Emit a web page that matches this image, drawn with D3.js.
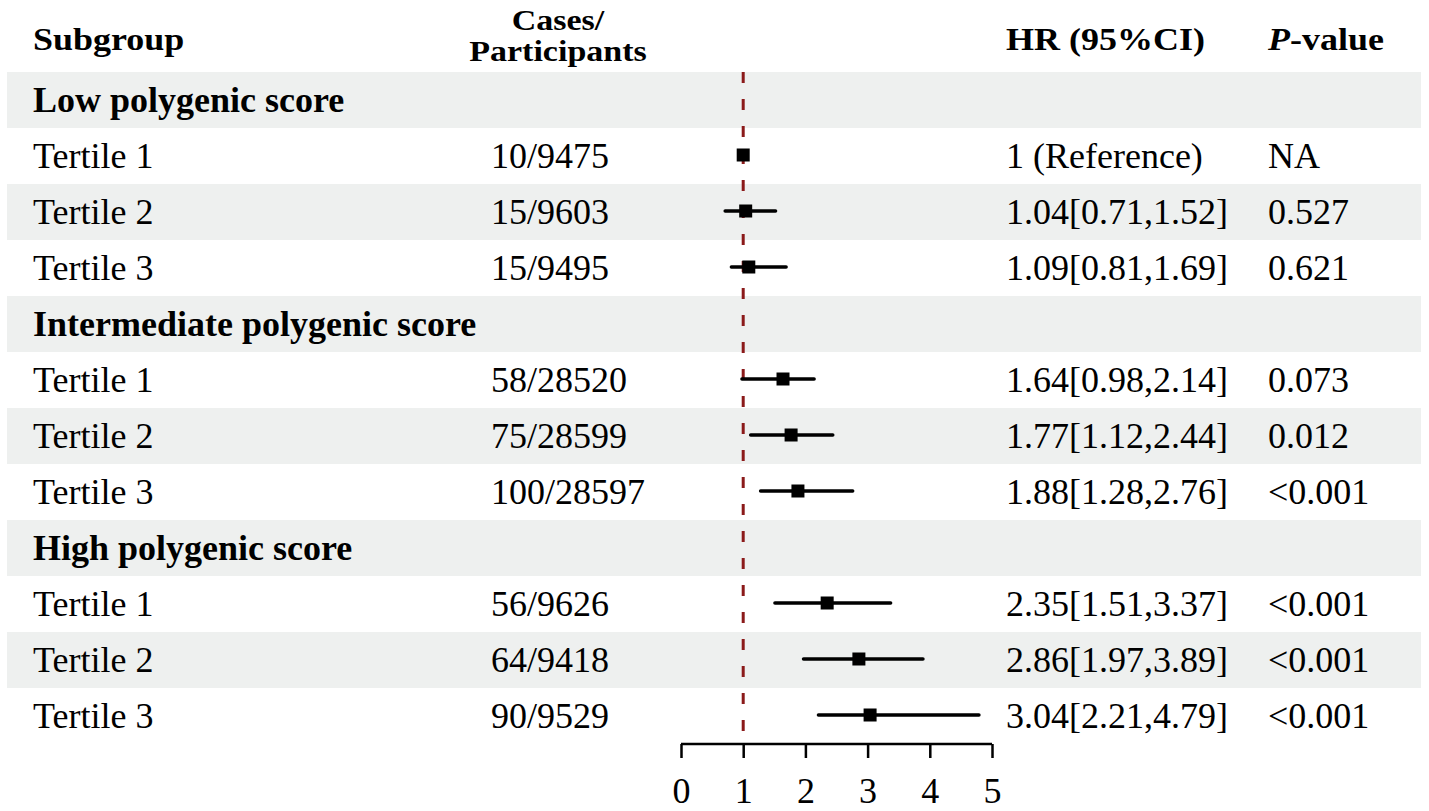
<!DOCTYPE html>
<html>
<head>
<meta charset="utf-8">
<script src="https://cdn.jsdelivr.net/npm/d3@7"></script>
<style>
  html, body { margin: 0; padding: 0; background: #fff; }
  svg { display: block; }
  text { font-family: "Liberation Serif", "Times New Roman", serif; fill: #000; }
</style>
</head>
<body>
<svg id="chart" width="1429" height="811"></svg>
<script>
// ---- data ----
const rowLabels = ["Low polygenic score", "Tertile 1", "Tertile 2", "Tertile 3",
  "Intermediate polygenic score", "Tertile 1", "Tertile 2", "Tertile 3",
  "High polygenic score", "Tertile 1", "Tertile 2", "Tertile 3"];
const isGroupHeader = [true, false, false, false, true, false, false, false, true, false, false, false];
const casesParticipants = ["", "10/9475", "15/9603", "15/9495", "", "58/28520", "75/28599", "100/28597",
  "", "56/9626", "64/9418", "90/9529"];
const hr = [null, 1, 1.04, 1.09, null, 1.64, 1.77, 1.88, null, 2.35, 2.86, 3.04];
const ciLow = [null, null, 0.71, 0.81, null, 0.98, 1.12, 1.28, null, 1.51, 1.97, 2.21];
const ciHigh = [null, null, 1.52, 1.69, null, 2.14, 2.44, 2.76, null, 3.37, 3.89, 4.79];
const hrText = ["", "1 (Reference)", "1.04[0.71,1.52]", "1.09[0.81,1.69]", "", "1.64[0.98,2.14]",
  "1.77[1.12,2.44]", "1.88[1.28,2.76]", "", "2.35[1.51,3.37]", "2.86[1.97,3.89]", "3.04[2.21,4.79]"];
const pText = ["", "NA", "0.527", "0.621", "", "0.073", "0.012", "<0.001", "", "<0.001", "<0.001", "<0.001"];
const xTicks = [0, 1, 2, 3, 4, 5];
const refValue = 1;

// ---- layout ----
const svg = d3.select("#chart");
const rowTop = 72, rowH = 56;
const x = d3.scaleLinear().domain([0, 5]).range([681, 992]);
const y = d3.scaleBand().domain(d3.range(rowLabels.length))
  .range([rowTop, rowTop + rowH * rowLabels.length]).padding(0);
const yc = i => y(i) + y.bandwidth() / 2;
const colSub = 33, colCases = 491, colHR = 1006, colP = 1268;
const fs = 36;

// bands
svg.append("g").selectAll("rect")
  .data(d3.range(rowLabels.length).filter(i => i % 2 === 0))
  .join("rect")
  .attr("x", 7).attr("width", 1414)
  .attr("y", i => y(i)).attr("height", y.bandwidth())
  .attr("fill", "#eef0ef");

// headers
const hdr = svg.append("g").attr("font-weight", "bold");
function hText(tx, ty, str, anchor, size) {
  return hdr.append("text")
    .attr("transform", `translate(${tx},${ty}) scale(1,0.88)`)
    .attr("text-anchor", anchor || "start")
    .attr("font-size", size || 36)
    .text(str);
}
hText(colSub, 50, "Subgroup");
hText(558, 30, "Cases/", "middle", 34);
hText(558, 61, "Participants", "middle", 34);
hText(colHR, 50, "HR (95%CI)");
const pv = hText(colP, 50, "");
pv.append("tspan").attr("font-style", "italic").text("P");
pv.append("tspan").text("-value");

// row text
const rows = svg.append("g").attr("font-size", fs);
rows.selectAll("text.lab").data(rowLabels).join("text")
  .attr("class", "lab")
  .attr("x", colSub).attr("y", (d, i) => yc(i) + 12)
  .attr("font-weight", (d, i) => isGroupHeader[i] ? "bold" : "normal")
  .text(d => d);
rows.selectAll("text.cases").data(casesParticipants).join("text")
  .attr("class", "cases")
  .attr("x", colCases).attr("y", (d, i) => yc(i) + 12)
  .text(d => d);
rows.selectAll("text.hr").data(hrText).join("text")
  .attr("class", "hr")
  .attr("x", colHR).attr("y", (d, i) => yc(i) + 12)
  .text(d => d);
rows.selectAll("text.p").data(pText).join("text")
  .attr("class", "p")
  .attr("x", colP).attr("y", (d, i) => yc(i) + 12)
  .text(d => d);

// reference dashed line
const axisY = 744;
svg.append("line")
  .attr("x1", x(refValue)).attr("x2", x(refValue))
  .attr("y1", rowTop).attr("y2", axisY - 3)
  .attr("stroke", "#8b1a1a").attr("stroke-width", 3)
  .attr("stroke-dasharray", "11,16");

// CIs
const off = -1;
const idx = d3.range(rowLabels.length).filter(i => hr[i] !== null);
svg.append("g").selectAll("line")
  .data(idx.filter(i => ciLow[i] !== null))
  .join("line")
  .attr("x1", i => x(ciLow[i])).attr("x2", i => x(ciHigh[i]))
  .attr("y1", i => yc(i) + off).attr("y2", i => yc(i) + off)
  .attr("stroke", "#000").attr("stroke-width", 3.5)
  .attr("stroke-linecap", "round");
const sq = 13;
svg.append("g").selectAll("rect")
  .data(idx)
  .join("rect")
  .attr("x", i => x(hr[i]) - sq / 2).attr("y", i => yc(i) + off - sq / 2)
  .attr("width", sq).attr("height", sq)
  .attr("fill", "#000");

// axis
const axis = d3.axisBottom(x).tickValues(xTicks).tickFormat(d3.format("d"))
  .tickSize(14).tickPadding(19);
const ax = svg.append("g").attr("transform", `translate(0,${axisY})`).call(axis);
ax.select(".domain").attr("stroke", "#000").attr("stroke-width", 2.5)
  .attr("d", `M${x(0)},0H${x(5)}`);
ax.selectAll(".tick line").attr("stroke", "#000").attr("stroke-width", 2.5);
ax.selectAll(".tick text").attr("font-size", 36)
  .attr("font-family", '"Liberation Serif", "Times New Roman", serif').attr("fill", "#000");
</script>
</body>
</html>
